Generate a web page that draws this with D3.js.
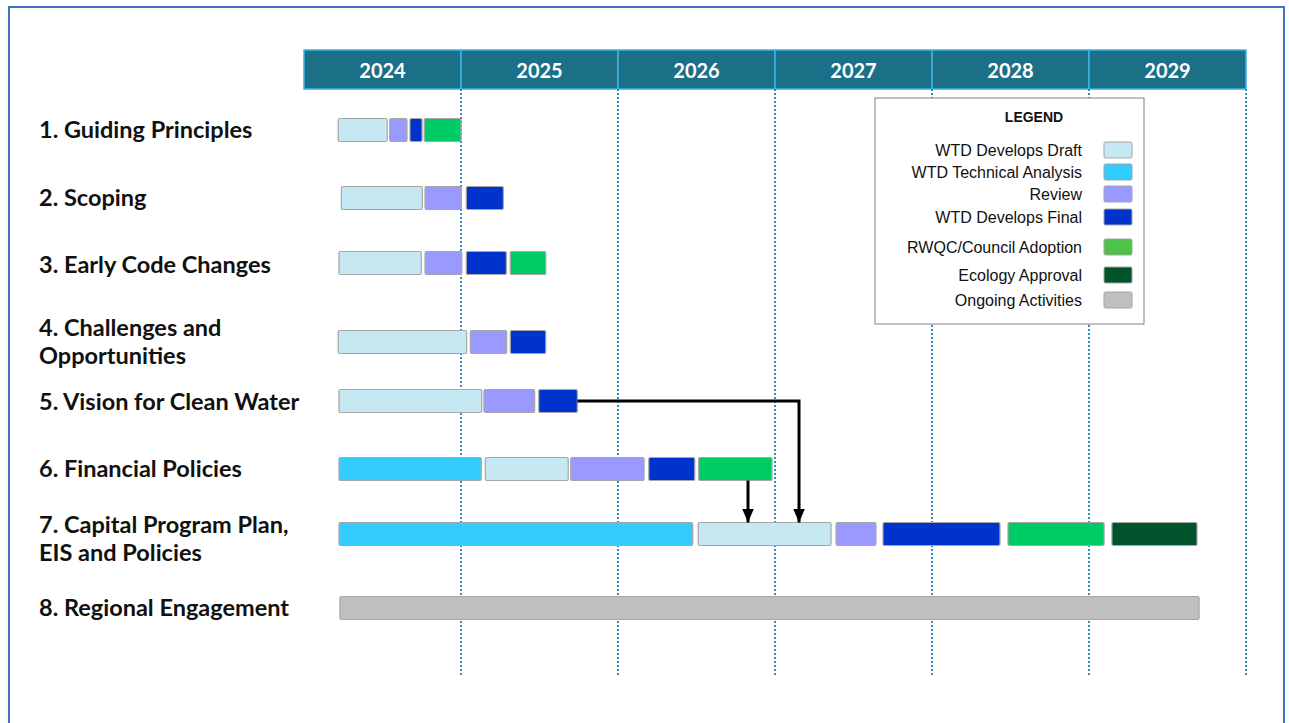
<!DOCTYPE html>
<html>
<head>
<meta charset="utf-8">
<script src="https://cdn.jsdelivr.net/npm/d3@7"></script>
<style>
body { margin: 0; background: #fff; }
svg { display: block; }
.task { font-family: Lato, "Open Sans", sans-serif; font-weight: bold; font-size: 23.5px; fill: #111; }
.year { font-family: Lato, "Open Sans", sans-serif; font-weight: bold; font-size: 20px; fill: #fff; }
.legend text { font-family: "Liberation Sans", Arial, sans-serif; font-size: 16px; fill: #111; }
</style>
</head>
<body>
<svg id="chart"></svg>
<script>
var width = 1289;
var height = 723;

// data
var years = [2024, 2025, 2026, 2027, 2028, 2029];
var tasks = [
	["1. Guiding Principles"],
	["2. Scoping"],
	["3. Early Code Changes"],
	["4. Challenges and", "Opportunities"],
	["5.  Vision for Clean Water"],
	["6. Financial Policies"],
	["7. Capital Program Plan,", "EIS and Policies"],
	["8. Regional Engagement"]
];
var phases = ["WTD Develops Draft", "WTD Technical Analysis", "Review", "WTD Develops Final",
			  "RWQC/Council Adoption", "Ecology Approval", "Ongoing Activities"];
var barColors = ["#c5e8f3", "#33ccff", "#9999ff", "#0033cc", "#00cc66", "#00532b", "#bfbfbf"];
var legendColors = ["#c5e8f3", "#33ccff", "#9999ff", "#0033cc", "#4fc24a", "#00532b", "#bfbfbf"];
// [task, phase, start year, end year]
var segments = [
	[0, 0, 2024.218, 2024.530], [0, 2, 2024.546, 2024.656], [0, 3, 2024.675, 2024.752], [0, 4, 2024.766, 2025.000],
	[1, 0, 2024.238, 2024.754], [1, 2, 2024.771, 2025.002], [1, 3, 2025.034, 2025.270],
	[2, 0, 2024.223, 2024.747], [2, 2, 2024.771, 2025.005], [2, 3, 2025.034, 2025.289], [2, 4, 2025.314, 2025.540],
	[3, 0, 2024.218, 2025.036], [3, 2, 2025.059, 2025.291], [3, 3, 2025.314, 2025.540],
	[4, 0, 2024.223, 2025.132], [4, 2, 2025.146, 2025.469], [4, 3, 2025.495, 2025.741],
	[5, 1, 2024.223, 2025.129], [5, 0, 2025.155, 2025.683], [5, 2, 2025.699, 2026.166], [5, 3, 2026.196, 2026.489], [5, 4, 2026.514, 2026.981],
	[6, 1, 2024.223, 2026.476], [6, 0, 2026.511, 2027.357], [6, 2, 2027.389, 2027.643], [6, 3, 2027.688, 2028.433], [6, 4, 2028.484, 2029.096], [6, 5, 2029.146, 2029.688],
	[7, 6, 2024.229, 2029.701]
];
// dependency arrows: [from task, to task, start year, drop year]
var links = [
	[4, 6, 2025.741, 2027.153],
	[5, 6, 2026.828, 2026.828]
];

// layout
var rowY = [130, 198, 263, 342, 401, 469, 534, 608];
var labelY = [130, 198, 265, 342, 402, 469, 539, 608];
var barHeight = 23;
var headerTop = 50;
var headerHeight = 39;
var gridBottom = 675;

var x = d3.scaleLinear().domain([2024, 2030]).range([304, 1246]);

var svg = d3.select("#chart")
	.attr("width", width)
	.attr("height", height);

// outer frame
svg.append("rect")
	.attr("x", 9).attr("y", 7)
	.attr("width", 1275).attr("height", 740)
	.attr("fill", "none")
	.attr("stroke", "#4472c4")
	.attr("stroke-width", 2);

// header band
var header = svg.append("g").attr("class", "header");
header.selectAll("rect").data(years)
	.enter().append("rect")
	.attr("x", function(d) { return x(d); })
	.attr("y", headerTop)
	.attr("width", function(d) { return x(d + 1) - x(d); })
	.attr("height", headerHeight)
	.attr("fill", "#1b6f87")
	.attr("stroke", "#3cb4e6")
	.attr("stroke-width", 1.5);
header.selectAll("text").data(years)
	.enter().append("text")
	.attr("class", "year")
	.attr("x", function(d) { return x(d + 0.5); })
	.attr("y", headerTop + 28)
	.attr("text-anchor", "middle")
	.text(function(d) { return d; });

// dotted year lines
svg.append("g").selectAll("line").data(years)
	.enter().append("line")
	.attr("x1", function(d) { return x(d + 1); })
	.attr("x2", function(d) { return x(d + 1); })
	.attr("y1", headerTop + headerHeight)
	.attr("y2", gridBottom)
	.attr("stroke", "#2f8fc0")
	.attr("stroke-width", 2)
	.attr("stroke-dasharray", "2,2");

// legend
var legend = svg.append("g").attr("class", "legend");
legend.append("rect")
	.attr("x", 875).attr("y", 98)
	.attr("width", 269).attr("height", 226)
	.attr("fill", "#fff")
	.attr("stroke", "#808080")
	.attr("stroke-width", 1);
legend.append("text")
	.attr("x", 1034).attr("y", 122)
	.attr("text-anchor", "middle")
	.style("font-weight", "bold")
	.style("font-size", "14px")
	.text("LEGEND");
var legendY = d3.scaleOrdinal().domain(phases).range([150, 172, 194, 217, 247, 275, 300]);
var item = legend.selectAll("g.item").data(phases)
	.enter().append("g")
	.attr("class", "item")
	.attr("transform", function(d) { return "translate(0," + legendY(d) + ")"; });
item.append("text")
	.attr("x", 1082).attr("y", 5.5)
	.attr("text-anchor", "end")
	.text(function(d) { return d; });
item.append("rect")
	.attr("x", 1104).attr("y", -8)
	.attr("width", 28).attr("height", 16)
	.attr("rx", 1.5)
	.attr("fill", function(d, i) { return legendColors[i]; })
	.attr("stroke", "#a6a6a6")
	.attr("stroke-width", 1);

// task labels
var label = svg.append("g").selectAll("text").data(tasks)
	.enter().append("text")
	.attr("class", "task")
	.attr("x", 39)
	.attr("y", function(d, i) { return labelY[i] + 8 - (d.length - 1) * 14; });
label.selectAll("tspan").data(function(d) { return d; })
	.enter().append("tspan")
	.attr("x", 39)
	.attr("dy", function(d, i) { return i == 0 ? 0 : 28; })
	.text(function(d) { return d; });

// bars
svg.append("g").selectAll("rect").data(segments)
	.enter().append("rect")
	.attr("x", function(d) { return x(d[2]); })
	.attr("y", function(d) { return rowY[d[0]] - barHeight/2; })
	.attr("width", function(d) { return x(d[3]) - x(d[2]); })
	.attr("height", barHeight)
	.attr("rx", 1.5)
	.attr("fill", function(d) { return barColors[d[1]]; })
	.attr("stroke", "#a6a6a6")
	.attr("stroke-width", 1.2);

// arrows
svg.append("defs").append("marker")
	.attr("id", "arrow")
	.attr("viewBox", "0 0 14 12")
	.attr("refX", 14).attr("refY", 6)
	.attr("markerWidth", 14).attr("markerHeight", 12)
	.attr("markerUnits", "userSpaceOnUse")
	.attr("orient", "auto")
	.append("path")
	.attr("d", "M0,0L14,6L0,12Z")
	.attr("fill", "#000");

svg.append("g").selectAll("path").data(links)
	.enter().append("path")
	.attr("d", function(d) {
		var top = rowY[d[1]] - barHeight/2;
		if (d[2] == d[3]) {
			return "M" + x(d[3]) + "," + (rowY[d[0]] + barHeight/2) + "V" + top;
		}
		return "M" + x(d[2]) + "," + rowY[d[0]] + "H" + x(d[3]) + "V" + top;
	})
	.attr("fill", "none")
	.attr("stroke", "#000")
	.attr("stroke-width", 3)
	.attr("marker-end", "url(#arrow)");
</script>
</body>
</html>
